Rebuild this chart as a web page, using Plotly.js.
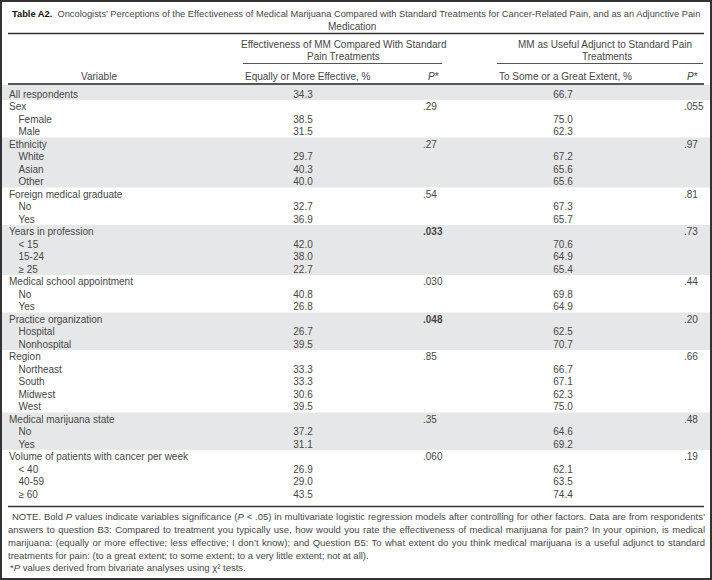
<!DOCTYPE html>
<html>
<head>
<meta charset="utf-8">
<script src="https://cdn.plot.ly/plotly-3.0.1.min.js"></script>
<style>html,body{margin:0;padding:0;background:#fff;}#chart{width:712px;height:580px;}</style>
</head>
<body>
<div id="chart"></div>
<script>
// ---------- DATA ----------
const rowLabels = ["All respondents","Sex","Female","Male","Ethnicity","White","Asian","Other",
  "Foreign medical graduate","No","Yes","Years in profession","< 15","15-24","≥ 25",
  "Medical school appointment","No","Yes","Practice organization","Hospital","Nonhospital",
  "Region","Northeast","South","Midwest","West","Medical marijuana state","No","Yes",
  "Volume of patients with cancer per week","< 40","40-59","≥ 60"];
const rowLevel = [0,0,1,1,0,1,1,1,0,1,1,0,1,1,1,0,1,1,0,1,1,0,1,1,1,1,0,1,1,0,1,1,1];
const effectivePct = ["34.3",null,"38.5","31.5",null,"29.7","40.3","40.0",null,"32.7","36.9",
  null,"42.0","38.0","22.7",null,"40.8","26.8",null,"26.7","39.5",null,"33.3","33.3","30.6","39.5",
  null,"37.2","31.1",null,"26.9","29.0","43.5"];
const effectiveP = [null,".29",null,null,".27",null,null,null,".54",null,null,".033",null,null,null,
  ".030",null,null,".048",null,null,".85",null,null,null,null,".35",null,null,".060",null,null,null];
const effectivePBold = [".033",".048"];
const adjunctPct = ["66.7",null,"75.0","62.3",null,"67.2","65.6","65.6",null,"67.3","65.7",
  null,"70.6","64.9","65.4",null,"69.8","64.9",null,"62.5","70.7",null,"66.7","67.1","62.3","75.0",
  null,"64.6","69.2",null,"62.1","63.5","74.4"];
const adjunctP = [null,".055",null,null,".97",null,null,null,".81",null,null,".73",null,null,null,
  ".44",null,null,".20",null,null,".66",null,null,null,null,".48",null,null,".19",null,null,null];

const titleBold = "Table A2.";
const titleText = "Oncologists’ Perceptions of the Effectiveness of Medical Marijuana Compared with Standard Treatments for Cancer-Related Pain, and as an Adjunctive Pain";
const titleText2 = "Medication";
const groupHeader1 = ["Effectiveness of MM Compared With Standard","Pain Treatments"];
const groupHeader2 = ["MM as Useful Adjunct to Standard Pain","Treatments"];
const colHeaders = ["Variable","Equally or More Effective, %","<i>P</i>*","To Some or a Great Extent, %","<i>P</i>*"];
const noteLines = [
  "NOTE. Bold <i>P</i> values indicate variables significance (<i>P</i> &lt; .05) in multivariate logistic regression models after controlling for other factors. Data are from respondents’",
  "answers to question B3: Compared to treatment you typically use, how would you rate the effectiveness of medical marijuana for pain? In your opinion, is medical",
  "marijuana: (equally or more effective; less effective; I don’t know); and Question B5: To what extent do you think medical marijuana is a useful adjunct to standard",
  "treatments for pain: (to a great extent; to some extent; to a very little extent; not at all).",
  "*<i>P</i> values derived from bivariate analyses using χ² tests."
];

// ---------- LAYOUT HELPERS ----------
const FONT = "Liberation Sans, Arial, sans-serif";
const TXT = "#474747";
const FS = 10;
const ROW0 = 95.2, ROWH = 12.5, BAND_OFF = 7.6;
const rowY = i => ROW0 + ROWH * i;
const esc = s => s.replace(/</g, "&lt;");
const idx = rowLabels.map((_, i) => i);

function textTrace(vals, x, pos, fmt) {
  const keep = idx.filter(i => vals[i] !== null);
  return {
    type: "scatter", mode: "text",
    x: keep.map(() => x), y: keep.map(rowY),
    text: keep.map(i => fmt ? fmt(vals[i]) : esc(vals[i])),
    textposition: pos,
    textfont: {family: FONT, size: FS, color: TXT},
    hoverinfo: "skip", showlegend: false, cliponaxis: false
  };
}

const traces = [
  {
    type: "scatter", mode: "text",
    x: idx.map(i => rowLevel[i] ? 18.5 : 9), y: idx.map(rowY),
    text: rowLabels.map(esc), textposition: "middle right",
    textfont: {family: FONT, size: FS, color: TXT},
    hoverinfo: "skip", showlegend: false, cliponaxis: false
  },
  textTrace(effectivePct, 303, "middle center"),
  textTrace(effectiveP, 423, "middle right", v => effectivePBold.includes(v) ? "<b>" + v + "</b>" : v),
  textTrace(adjunctPct, 563, "middle center"),
  textTrace(adjunctP, 684, "middle right")
];

// shaded group bands
const shapes = [];
const groupStarts = idx.filter(i => rowLevel[i] === 0);
groupStarts.forEach((s, g) => {
  const e = (g + 1 < groupStarts.length ? groupStarts[g + 1] : rowLabels.length) - 1;
  if (g % 2 === 0) {
    shapes.push({type: "rect", layer: "below", xref: "x", yref: "y",
      x0: 2, x1: 710, y0: g === 0 ? 85 : rowY(s) - BAND_OFF, y1: rowY(e + 1) - BAND_OFF,
      fillcolor: "#e6e7e8", line: {width: 0}});
  }
});
const hline = (y, x0, x1, w, c) => ({type: "line", xref: "x", yref: "y", x0, x1, y0: y, y1: y, line: {color: c, width: w}});
shapes.push(hline(33.5, 8, 704, 1.5, "#333"));
shapes.push(hline(63.5, 243, 442, 1, "#555"));
shapes.push(hline(63.5, 497, 703, 1, "#555"));
shapes.push(hline(84, 8, 704, 2, "#555"));
shapes.push(hline(506.5, 8, 704, 1.5, "#333"));
shapes.push({type: "rect", xref: "x", yref: "y", x0: 1, x1: 711, y0: 1, y1: 579, line: {color: "#333", width: 2}, fillcolor: "rgba(0,0,0,0)"});

const ann = (text, x, y, xanchor, extra) => Object.assign({
  text, x, y, xref: "x", yref: "y", xanchor, yanchor: "middle", showarrow: false,
  font: {family: FONT, size: FS, color: TXT}, align: xanchor === "center" ? "center" : "left"
}, extra || {});

const annotations = [
  ann("<span style='color:#111'><b>" + titleBold + "</b></span>  " + titleText, 356, 13.5, "center", {font: {family: FONT, size: 9.3, color: TXT}}),
  ann(titleText2, 352, 26, "center"),
  ann(groupHeader1[0], 343, 44, "center"),
  ann(groupHeader1[1], 343, 56.5, "center"),
  ann(groupHeader2[0], 605, 44, "center"),
  ann(groupHeader2[1], 607, 56.5, "center"),
  ann(colHeaders[0], 98.5, 76, "center"),
  ann(colHeaders[1], 243, 76, "left"),
  ann(colHeaders[2], 426, 76, "left"),
  ann(colHeaders[3], 497, 76, "left"),
  ann(colHeaders[4], 685, 76, "left")
];
const noteY = [516, 529, 542, 555, 567.5];
const noteStart = annotations.length;
noteLines.forEach((t, i) => annotations.push(ann(t, i === 0 ? 10 : (i === 4 ? 8 : 6), noteY[i], "left", {font: {family: FONT, size: 9.5, color: TXT}})));

const layout = {
  width: 712, height: 580, margin: {l: 0, r: 0, t: 0, b: 0, pad: 0},
  paper_bgcolor: "#fff", plot_bgcolor: "#fff", showlegend: false,
  xaxis: {range: [0, 712], visible: false, fixedrange: true},
  yaxis: {range: [580, 0], visible: false, fixedrange: true},
  shapes, annotations, hovermode: false
};
Plotly.newPlot("chart", traces, layout, {displayModeBar: false, staticPlot: true}).then(gd => {
  // justify the first three note lines to the right rule edge (703px)
  const texts = gd.querySelectorAll(".annotation-text");
  [0, 1, 2].forEach(k => {
    const el = texts[noteStart + k];
    if (!el) return;
    const bb = el.getBBox();
    const left = [10, 6, 6][k];
    const target = 703 - left;
    const spaces = (el.textContent.match(/ /g) || []).length;
    if (spaces > 0 && bb.width < target) {
      el.style.wordSpacing = ((target - bb.width) / spaces).toFixed(3) + "px";
    }
  });
});
</script>
</body>
</html>
